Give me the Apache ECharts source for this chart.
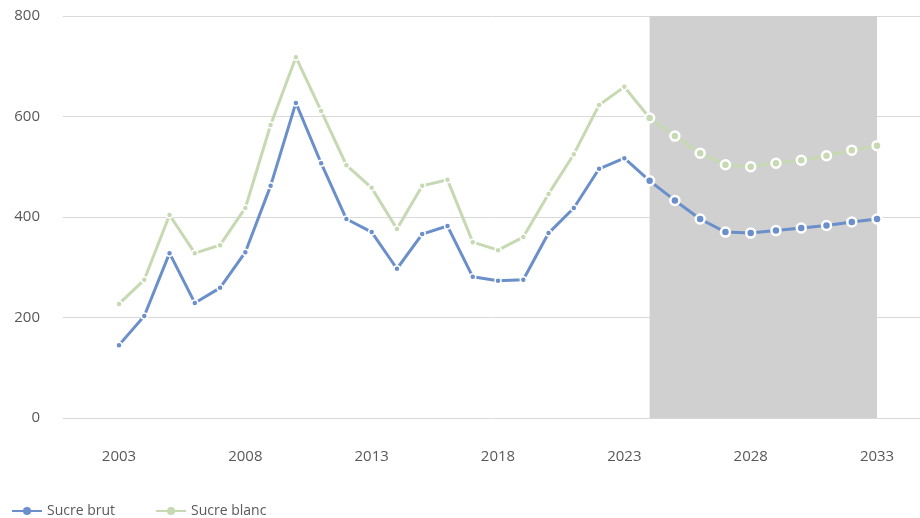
<!DOCTYPE html>
<html>
<head>
<meta charset="utf-8">
<script src="https://cdn.jsdelivr.net/npm/echarts@6/dist/echarts.min.js"></script>
<style>
  html, body { margin: 0; padding: 0; background: #fff; }
  #chart { width: 920px; height: 518px; }
</style>
</head>
<body>
<div id="chart"></div>
<script>
const years = [2003, 2004, 2005, 2006, 2007, 2008, 2009, 2010, 2011, 2012,
               2013, 2014, 2015, 2016, 2017, 2018, 2019, 2020, 2021, 2022,
               2023, 2024, 2025, 2026, 2027, 2028, 2029, 2030, 2031, 2032, 2033];
const sucreBrut = [145, 203, 328, 229, 259, 330, 462, 627, 507, 396,
                   370, 297, 366, 382, 281, 273, 275, 368, 418, 496,
                   517, 472, 433, 396, 370, 368, 373, 378, 383, 390, 396];
const sucreBlanc = [227, 275, 404, 328, 344, 418, 583, 718, 611, 503,
                    458, 376, 462, 474, 350, 334, 360, 446, 525, 623,
                    659, 597, 561, 527, 504, 500, 507, 513, 522, 533, 542];
const projectionStart = 2024;
const projectionEnd = 2033;
const yearLabels = [2003, 2008, 2013, 2018, 2023, 2028, 2033];

const BLUE = '#6b8fca';
const GREEN = '#c6d9b2';
const TEXT = '#595959';
const FONT = '"Open Sans", "Noto Sans", sans-serif';

function buildPoints(values) {
    return years.map((yr, i) => {
        const proj = yr >= projectionStart;
        return {
            value: [yr, values[i]],
            symbolSize: proj ? 9 : 6,
            itemStyle: { borderColor: '#ffffff', borderWidth: proj ? 2.5 : 1.5 }
        };
    });
}

const chart = echarts.init(document.getElementById('chart'), null, { renderer: 'canvas' });

chart.setOption({
    animation: false,
    textStyle: { fontFamily: FONT },
    grid: { left: 63, right: 0, top: 16, bottom: 100 },
    legend: {
        left: 6,
        top: 499,
        itemWidth: 30,
        itemHeight: 10,
        itemGap: 40,
        textStyle: { color: TEXT, fontSize: 14, fontFamily: FONT },
        data: ['Sucre brut', 'Sucre blanc']
    },
    xAxis: {
        type: 'value',
        min: 2000.784,
        max: 2034.7,
        axisLine: { show: false },
        axisTick: { show: false },
        splitLine: { show: false },
        axisLabel: {
            customValues: yearLabels,
            color: TEXT,
            fontSize: 15,
            margin: 31,
            formatter: v => String(v)
        }
    },
    yAxis: {
        type: 'value',
        min: 0,
        max: 800,
        interval: 200,
        axisLine: { show: false },
        axisTick: { show: false },
        axisLabel: { color: TEXT, fontSize: 15, margin: 23 },
        splitLine: { lineStyle: { color: '#d9d9d9', width: 1 } }
    },
    series: [
        {
            name: 'Sucre brut',
            type: 'line',
            data: buildPoints(sucreBrut),
            symbol: 'circle',
            color: BLUE,
            lineStyle: { color: BLUE, width: 3 },
            itemStyle: { color: BLUE },
            z: 3,
            markArea: {
                silent: true,
                itemStyle: { color: '#d0d0d0' },
                data: [[{ xAxis: projectionStart }, { xAxis: projectionEnd }]]
            }
        },
        {
            name: 'Sucre blanc',
            type: 'line',
            data: buildPoints(sucreBlanc),
            symbol: 'circle',
            color: GREEN,
            lineStyle: { color: GREEN, width: 3 },
            itemStyle: { color: GREEN },
            z: 2
        }
    ]
});
</script>
</body>
</html>
